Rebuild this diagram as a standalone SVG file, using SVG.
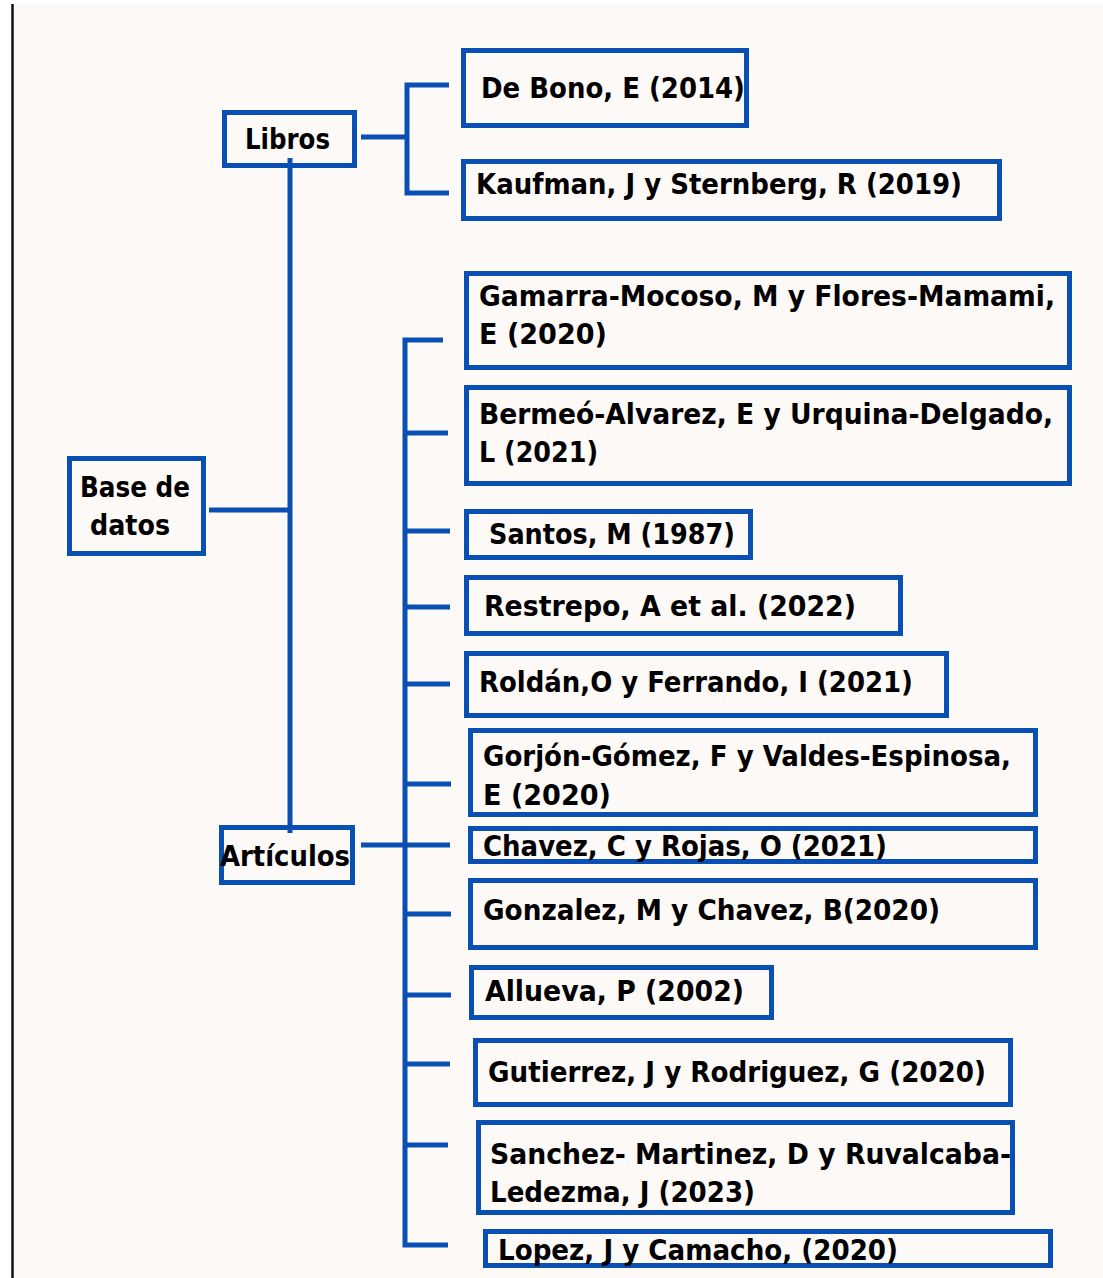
<svg xmlns="http://www.w3.org/2000/svg" width="1103" height="1278" viewBox="0 0 1103 1278">
<style>
.box{fill:none;stroke:#0a50b4;stroke-width:5}
.ln{fill:none;stroke:#0a50b4;stroke-width:5}
.t{font-family:"DejaVu Sans Condensed","DejaVu Sans",sans-serif;font-size:28.5px;font-weight:bold;fill:#000}
</style>
<rect x="0" y="0" width="1103" height="1278" fill="#ffffff"/>
<rect x="13" y="4" width="1090" height="1274" fill="#fdf9f6"/>
<line x1="12.5" y1="4" x2="12.5" y2="1278" stroke="#111" stroke-width="2.5"/>
<g id="connectors">
<path class="ln" d="M290 158V833"/>
<path class="ln" d="M209 510H290"/>
<path class="ln" d="M361 137H407"/>
<path class="ln" d="M449 85H407V193H449"/>
<path class="ln" d="M361 845H405"/>
<path class="ln" d="M443 340H405V1245H448"/>
<path class="ln" d="M405 433H448M405 531H450M405 607H450M405 684H450M405 784H451M405 845H450M405 914H451M405 995H451M405 1064H450M405 1145H448"/>
</g>
<g id="base"><rect class="box" x="69.5" y="458.5" width="134" height="95"/><text class="t" x="80" y="497" textLength="110" lengthAdjust="spacingAndGlyphs">Base de</text><text class="t" x="90" y="535" textLength="80" lengthAdjust="spacingAndGlyphs">datos</text></g>
<g id="libros"><rect class="box" x="224.5" y="112.5" width="130" height="53"/><text class="t" x="245" y="149" textLength="85" lengthAdjust="spacingAndGlyphs">Libros</text></g>
<g id="articulos"><rect class="box" x="221.5" y="827.5" width="131" height="55"/><text class="t" x="220" y="866" textLength="130" lengthAdjust="spacingAndGlyphs">Artículos</text></g>
<g id="debono"><rect class="box" x="463.5" y="50.5" width="283" height="75"/><text class="t" x="481" y="98" textLength="264" lengthAdjust="spacingAndGlyphs">De Bono, E (2014)</text></g>
<g id="kaufman"><rect class="box" x="463.5" y="161.5" width="536" height="57"/><text class="t" x="476" y="194" textLength="486" lengthAdjust="spacingAndGlyphs">Kaufman, J y Sternberg, R (2019)</text></g>
<g id="gamarra"><rect class="box" x="466.5" y="273.5" width="603" height="94"/><text class="t" x="479" y="306" textLength="576" lengthAdjust="spacingAndGlyphs">Gamarra-Mocoso, M y Flores-Mamami,</text><text class="t" x="479" y="344" textLength="128" lengthAdjust="spacingAndGlyphs">E (2020)</text></g>
<g id="bermeo"><rect class="box" x="466.5" y="387.5" width="603" height="96"/><text class="t" x="479" y="424" textLength="574" lengthAdjust="spacingAndGlyphs">Bermeó-Alvarez, E y Urquina-Delgado,</text><text class="t" x="479" y="462" textLength="119" lengthAdjust="spacingAndGlyphs">L (2021)</text></g>
<g id="santos"><rect class="box" x="466.5" y="511.5" width="284" height="46"/><text class="t" x="489" y="544" textLength="246" lengthAdjust="spacingAndGlyphs">Santos, M (1987)</text></g>
<g id="restrepo"><rect class="box" x="466.5" y="577.5" width="434" height="56"/><text class="t" x="484" y="616" textLength="372" lengthAdjust="spacingAndGlyphs">Restrepo, A et al. (2022)</text></g>
<g id="roldan"><rect class="box" x="466.5" y="653.5" width="480" height="62"/><text class="t" x="479" y="692" textLength="434" lengthAdjust="spacingAndGlyphs">Roldán,O y Ferrando, I (2021)</text></g>
<g id="gorjon"><rect class="box" x="470.5" y="730.5" width="565" height="84"/><text class="t" x="483" y="766" textLength="528" lengthAdjust="spacingAndGlyphs">Gorjón-Gómez, F y Valdes-Espinosa,</text><text class="t" x="483" y="805" textLength="128" lengthAdjust="spacingAndGlyphs">E (2020)</text></g>
<g id="chavez"><rect class="box" x="470.5" y="828.5" width="565" height="33"/><text class="t" x="483" y="856" textLength="404" lengthAdjust="spacingAndGlyphs">Chavez, C y Rojas, O (2021)</text></g>
<g id="gonzalez"><rect class="box" x="470.5" y="880.5" width="565" height="67"/><text class="t" x="483" y="920" textLength="457" lengthAdjust="spacingAndGlyphs">Gonzalez, M y Chavez, B(2020)</text></g>
<g id="allueva"><rect class="box" x="471.5" y="967.5" width="300" height="50"/><text class="t" x="485" y="1001" textLength="259" lengthAdjust="spacingAndGlyphs">Allueva, P (2002)</text></g>
<g id="gutierrez"><rect class="box" x="475.5" y="1040.5" width="535" height="64"/><text class="t" x="488" y="1082" textLength="498" lengthAdjust="spacingAndGlyphs">Gutierrez, J y Rodriguez, G (2020)</text></g>
<g id="sanchez"><rect class="box" x="478.5" y="1122.5" width="534" height="90"/><text class="t" x="490" y="1164" textLength="521" lengthAdjust="spacingAndGlyphs">Sanchez- Martinez, D y Ruvalcaba-</text><text class="t" x="490" y="1202" textLength="265" lengthAdjust="spacingAndGlyphs">Ledezma, J (2023)</text></g>
<g id="lopez"><rect class="box" x="485.5" y="1231.5" width="565" height="34"/><text class="t" x="498" y="1260" textLength="400" lengthAdjust="spacingAndGlyphs">Lopez, J y Camacho, (2020)</text></g>
</svg>
